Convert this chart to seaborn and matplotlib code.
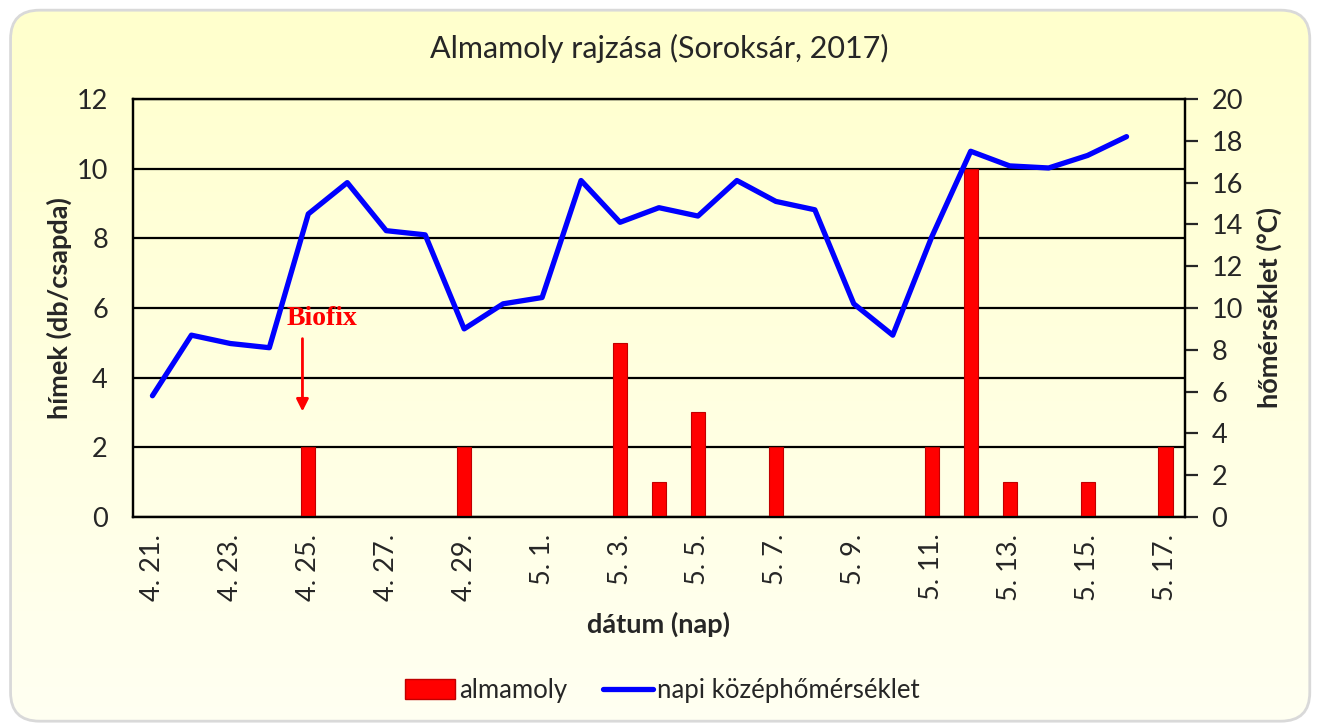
import numpy as np
import pandas as pd
import matplotlib
matplotlib.use("Agg")
import matplotlib.pyplot as plt
from matplotlib.patches import FancyBboxPatch, Patch
from matplotlib.lines import Line2D
import seaborn as sns

###############################################
# data
###############################################
dates = [f"4. {d}." for d in range(21, 31)] + [f"5. {d}." for d in range(1, 18)]

# almamoly catches per trap (left axis)
moth_counts = [0, 0, 0, 0, 2, 0, 0, 0, 2, 0,
               0, 0, 5, 1, 3, 0, 2, 0, 0, 0,
               2, 10, 1, 0, 1, 0, 2]

# daily mean temperature (right axis), no value for the last day
mean_temp = [5.8, 8.7, 8.3, 8.1, 14.5, 16.0, 13.7, 13.5, 9.0, 10.2,
             10.5, 16.1, 14.1, 14.8, 14.4, 16.1, 15.1, 14.7, 10.2, 8.7,
             13.4, 17.5, 16.8, 16.7, 17.3, 18.2]

title = "Almamoly rajzása (Soroksár, 2017)"
left_label = "hímek (db/csapda)"
right_label = "hőmérséklet (°C)"
x_label = "dátum (nap)"
bar_name = "almamoly"
line_name = "napi középhőmérséklet"

###############################################
# style
###############################################
sns.set_style("white")
plt.rcParams["font.family"] = ["Lato", "DejaVu Sans"]

BAR_RED = "#FF0000"
LINE_BLUE = "#0000FF"
TICK_FS = 19.5
LABEL_FS = 19.5

fig = plt.figure(figsize=(13.19, 7.27), dpi=100)

# yellow gradient background inside a rounded frame
bg = fig.add_axes([0, 0, 1, 1])
bg.set_xlim(0, 1)
bg.set_ylim(0, 1)
bg.axis("off")
grad = np.linspace(0, 1, 256).reshape(-1, 1)
top_col = np.array([255, 255, 204]) / 255
bot_col = np.array([255, 255, 242]) / 255
img = top_col * (1 - grad[..., None]) + bot_col * grad[..., None]
im = bg.imshow(img, extent=[0, 1, 0, 1], aspect="auto", origin="upper", zorder=0)
frame = FancyBboxPatch((0.008, 0.008), 0.985, 0.978,
                       boxstyle="round,pad=0,rounding_size=0.022",
                       mutation_aspect=1.8,
                       transform=bg.transAxes, facecolor="none",
                       edgecolor="#D9D9D9", lw=2, zorder=2)
bg.add_patch(frame)
im.set_clip_path(frame)

###############################################
# main axes: bars
###############################################
ax = fig.add_axes([0.1008, 0.2889, 0.7976, 0.5749])
ax.set_facecolor("none")

sns.barplot(x=dates, y=moth_counts, color=BAR_RED, saturation=1,
            width=0.36, edgecolor="#C00000", linewidth=0.8, ax=ax, zorder=3)

ax.set_ylim(0, 12)
ax.set_yticks(np.arange(0, 13, 2))
ax.grid(axis="y", color="black", lw=1.6, zorder=0)
ax.grid(axis="x", visible=False)
ax.set_axisbelow(True)

ax.set_xlim(-0.5, len(dates) - 0.5)
ax.set_xticks(np.arange(0, len(dates), 2))
ax.set_xticklabels(dates[::2], rotation=90, fontsize=TICK_FS)
ax.set_xticks(np.arange(-0.5, len(dates), 2), minor=True)
ax.tick_params(axis="x", which="major", length=0, pad=12)
ax.tick_params(axis="x", which="minor", length=9, width=1.6, color="black", direction="out")
ax.tick_params(axis="y", length=0, labelsize=TICK_FS, pad=18)

for s in ax.spines.values():
    s.set_color("black")
    s.set_linewidth(1.6)

ax.set_xlabel(x_label, fontsize=LABEL_FS, fontweight="bold", labelpad=8)
ax.set_ylabel(left_label, fontsize=LABEL_FS, fontweight="bold", labelpad=3)

# biofix marker
ax.annotate("", xy=(3.85, 2.95), xytext=(3.85, 5.2),
            arrowprops=dict(arrowstyle="-|>", color="red", lw=2, mutation_scale=18))
ax.text(4.35, 5.7, "Biofix", color="red", fontsize=20, fontweight="bold",
        family=["Liberation Serif"], ha="center", va="center")

###############################################
# twin axis: temperature line
###############################################
ax2 = ax.twinx()
sns.lineplot(x=np.arange(len(mean_temp)), y=mean_temp, color=LINE_BLUE,
             lw=3.8, ax=ax2)
ax2.set_ylim(0, 20)
ax2.set_yticks(np.arange(0, 21, 2))
ax2.tick_params(axis="y", length=9, width=1.6, direction="out", labelsize=TICK_FS, pad=10)
ax2.set_ylabel(right_label, fontsize=LABEL_FS, fontweight="bold", labelpad=10)
ax2.grid(False)
for s in ax2.spines.values():
    s.set_color("black")
    s.set_linewidth(1.6)
ax2.set_xlim(-0.5, len(dates) - 0.5)

###############################################
# title and legend
###############################################
fig.text(0.5, 0.933, title, ha="center", va="center", fontsize=22)

handles = [Patch(facecolor=BAR_RED, edgecolor="#C00000", label=bar_name),
           Line2D([0], [0], color=LINE_BLUE, lw=3.8, label=line_name)]
fig.legend(handles=handles, loc="center", bbox_to_anchor=(0.502, 0.05), ncol=2,
           frameon=False, fontsize=18.5, handlelength=1.95, handleheight=0.8,
           handletextpad=0.15, columnspacing=1.4)

fig.savefig("out.png", dpi=100)
